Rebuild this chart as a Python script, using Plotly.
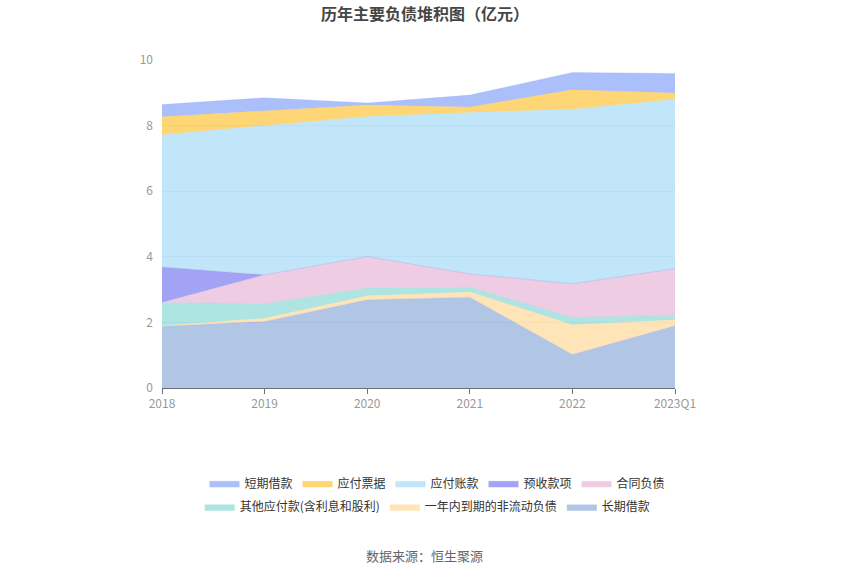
import plotly.graph_objects as go

categories = ["2018", "2019", "2020", "2021", "2022", "2023Q1"]

# bottom -> top stacking order
long_loan = [1.88, 2.03, 2.69, 2.77, 1.02, 1.90]          # 长期借款
current_noncurrent = [0.02, 0.10, 0.12, 0.16, 0.91, 0.18]  # 一年内到期的非流动负债
other_payable = [0.71, 0.44, 0.24, 0.14, 0.22, 0.14]       # 其他应付款(含利息和股利)
contract_liab = [0.0, 0.88, 0.96, 0.41, 1.03, 1.42]        # 合同负债
advance_recv = [1.08, 0.0, 0.0, 0.0, 0.0, 0.0]             # 预收款项
acct_payable = [4.03, 4.55, 4.27, 4.92, 5.32, 5.16]        # 应付账款
notes_payable = [0.55, 0.45, 0.35, 0.17, 0.59, 0.195]      # 应付票据
short_loan = [0.37, 0.40, 0.06, 0.36, 0.53, 0.595]         # 短期借款

series = [
    ("长期借款", long_loan, "#8eaed8", "legend2", 8),
    ("一年内到期的非流动负债", current_noncurrent, "#ffd898", "legend2", 7),
    ("其他应付款(含利息和股利)", other_payable, "#8cd9d6", "legend2", 6),
    ("合同负债", contract_liab, "#e6b6d8", "legend", 5),
    ("预收款项", advance_recv, "#7b7cf0", "legend", 4),
    ("应付账款", acct_payable, "#a6dcf7", "legend", 3),
    ("应付票据", notes_payable, "#fec43c", "legend", 2),
    ("短期借款", short_loan, "#88a4f9", "legend", 1),
]

def rgba(h, a):
    h = h.lstrip("#")
    r, g, b = int(h[0:2], 16), int(h[2:4], 16), int(h[4:6], 16)
    return f"rgba({r},{g},{b},{a})"

fig = go.Figure()
for name, vals, col, lg, rank in series:
    fig.add_trace(go.Scatter(
        x=categories, y=vals, name=name, mode="lines",
        stackgroup="one", line=dict(width=0.6, color=rgba(col, 0.35)),
        fillcolor=rgba(col, 0.7), legend=lg, legendrank=rank,
        hoverinfo="x+y+name",
    ))

FONT = "Noto Sans CJK SC, Noto Sans, sans-serif"
fig.update_layout(
    width=850, height=575,
    margin=dict(l=162, r=175, t=60, b=187),
    paper_bgcolor="white", plot_bgcolor="white",
    font=dict(family=FONT, color="#333333", size=12),
    title=dict(text="<b>历年主要负债堆积图（亿元）</b>", x=0.5, xanchor="center",
               y=0.975, yanchor="middle", font=dict(size=16, color="#464646", family=FONT)),
    xaxis=dict(type="category", range=[0, 5], showgrid=False,
               showline=True, linecolor="#6e7079", linewidth=1,
               ticks="outside", ticklen=5, tickcolor="#6e7079",
               tickfont=dict(size=12, color="#999999"), fixedrange=True),
    yaxis=dict(range=[0, 10], tickvals=[0, 2, 4, 6, 8, 10],
               showgrid=True, gridcolor="#e0e6f1", gridwidth=1,
               zeroline=False, showline=False, ticks="",
               tickfont=dict(size=12, color="#999999"), ticklabelstandoff=8),
    legend=dict(orientation="h", x=0.537, xanchor="center", y=-0.246, yanchor="top",
                font=dict(size=12, color="#333333"), traceorder="normal",
                itemwidth=30, bgcolor="rgba(0,0,0,0)"),
    legend2=dict(orientation="h", x=0.518, xanchor="center", y=-0.318, yanchor="top",
                 font=dict(size=12, color="#333333"), traceorder="normal",
                 itemwidth=30, bgcolor="rgba(0,0,0,0)"),
    showlegend=True,
)

fig.add_annotation(text="数据来源：恒生聚源", xref="paper", yref="paper",
                   x=0.512, y=(388 - 555) / 328, xanchor="center", yanchor="middle",
                   showarrow=False, font=dict(size=13, color="#666666", family=FONT))

fig.write_html("out.html", config={"displayModeBar": False},
               post_script="document.body.style.margin='0';")
